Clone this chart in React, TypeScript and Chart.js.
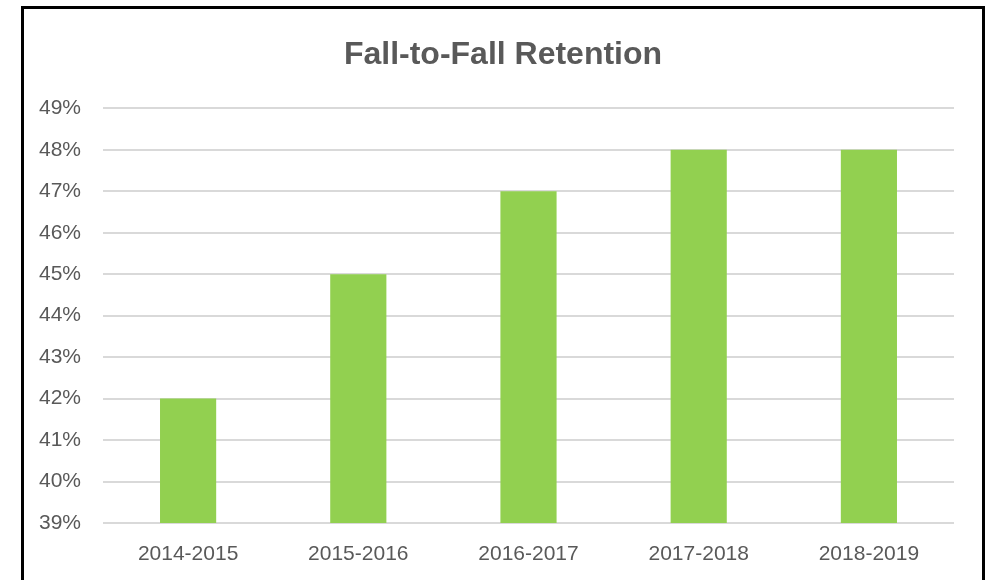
import React, { useEffect, useRef } from "react";
import { Chart, registerables } from "chart.js";

Chart.register(...registerables);

const categories = ["2014-2015", "2015-2016", "2016-2017", "2017-2018", "2018-2019"];
const retention = [42, 45, 47, 48, 48];
const yMin = 39;
const yMax = 49;
const yStep = 1;
const title = "Fall-to-Fall Retention";

export default function App() {
  const ref = useRef<HTMLCanvasElement | null>(null);

  useEffect(() => {
    document.body.style.margin = "0";
    const ctx = ref.current!;
    const chart = new Chart(ctx, {
      type: "bar",
      data: {
        labels: categories,
        datasets: [
          {
            label: "Retention",
            data: retention,
            backgroundColor: "#92D050",
            borderWidth: 0,
            categoryPercentage: 1,
            barPercentage: 0.33,
          },
        ],
      },
      options: {
        animation: false,
        responsive: false,
        maintainAspectRatio: false,
        layout: { padding: { left: 14, right: 0, top: 0, bottom: 13 } },
        plugins: {
          legend: { display: false },
          tooltip: { enabled: false },
          title: {
            display: true,
            text: title,
            color: "#595959",
            font: { family: "Liberation Sans", size: 32, weight: "bold" },
            padding: { top: 36, bottom: 34 },
          },
        },
        scales: {
          x: {
            grid: { display: false, drawTicks: false },
            border: { display: false },
            ticks: {
              color: "#595959",
              font: { family: "Liberation Sans", size: 21 },
              padding: 19,
              maxRotation: 0,
            },
            afterFit: (s: any) => {
              s.height = 44;
            },
          },
          y: {
            min: yMin,
            max: yMax,
            grid: { color: "#D9D9D9", lineWidth: 2, drawTicks: false },
            border: { display: false },
            ticks: {
              stepSize: yStep,
              color: "#595959",
              font: { family: "Liberation Sans", size: 21 },
              padding: 22,
              callback: (v: any) => v + "%",
            },
            afterFit: (s: any) => {
              s.width = 89;
            },
          },
          yRight: {
            type: "linear",
            axis: "y",
            position: "right",
            display: true,
            grid: { display: false, drawTicks: false },
            border: { display: false },
            ticks: { display: false },
            afterFit: (s: any) => {
              s.width = 38;
            },
          },
        },
      },
    });
    return () => chart.destroy();
  }, []);

  return (
    <div style={{ position: "relative", width: 992, height: 580, overflow: "hidden", background: "#fff" }}>
      <canvas ref={ref} width={992} height={580} style={{ position: "absolute", left: 0, top: 0 }} />
      <div
        style={{
          position: "absolute",
          left: 21,
          top: 6,
          width: 964,
          height: 620,
          border: "3px solid #000",
          boxSizing: "border-box",
          pointerEvents: "none",
        }}
      />
    </div>
  );
}
